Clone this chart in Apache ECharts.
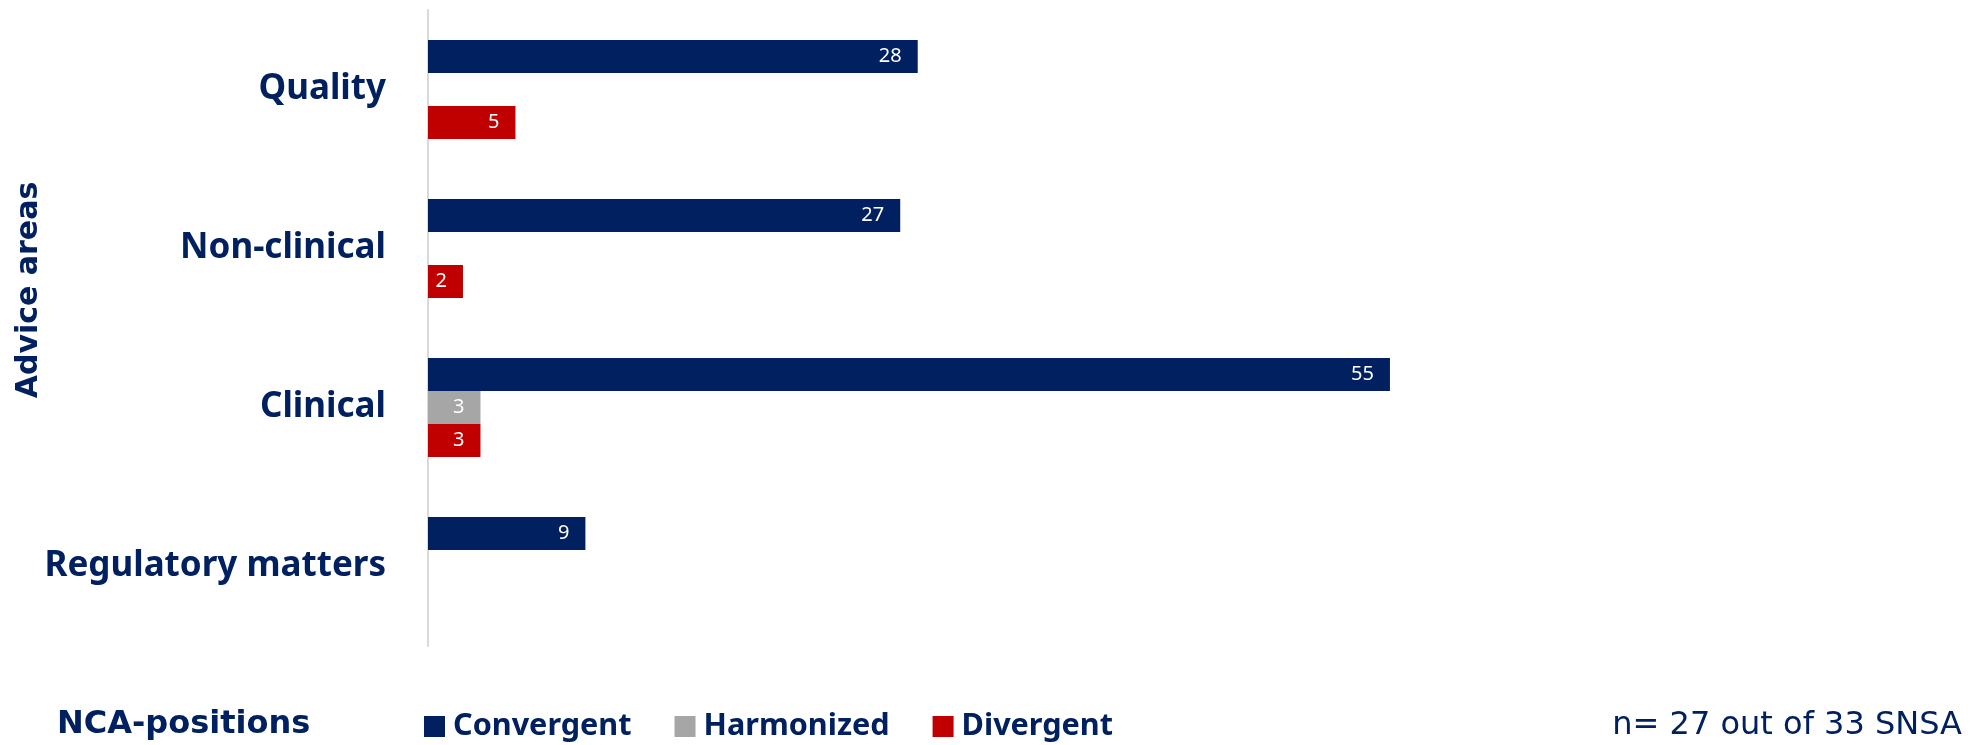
<!DOCTYPE html>
<html>
<head>
<meta charset="utf-8">
<title>Advice areas by NCA-positions</title>
<script src="https://cdn.jsdelivr.net/npm/echarts@6/dist/echarts.min.js"></script>
<style>
  html, body { margin: 0; padding: 0; background: #ffffff; }
  #chart { width: 1973px; height: 745px; }
</style>
</head>
<body>
<div id="chart"></div>
<script>
// Advice areas (top to bottom)
const categories = ['Quality', 'Non-clinical', 'Clinical', 'Regulatory matters'];

// Number of NCA positions per advice area
const convergent = [28, 27, 55, 9];
const harmonized = [null, null, 3, null];
const divergent  = [5, 2, 3, null];

const seriesNames = ['Convergent', 'Harmonized', 'Divergent'];
const footnote = 'n= 27 out of 33 SNSA';

const NAVY = '#002060';
const GREY = '#A6A6A6';
const RED = '#C00000';

const chart = echarts.init(document.getElementById('chart'), null, { renderer: 'canvas' });

function barSeries(name, data, color) {
  return {
    name: name,
    type: 'bar',
    data: data,
    barWidth: 33,
    barGap: '0%',
    itemStyle: { color: color },
    label: {
      show: true,
      position: 'insideRight',
      distance: 16,
      color: '#ffffff',
      fontFamily: 'Noto Sans',
      fontSize: 20,
      formatter: p => (p.value == null ? '' : String(p.value))
    }
  };
}

chart.setOption({
  animation: false,
  backgroundColor: '#ffffff',
  grid: { left: 428, top: 10, width: 1049.4, height: 636, containLabel: false },
  xAxis: {
    type: 'value',
    min: 0,
    max: 60,
    show: false
  },
  yAxis: {
    type: 'category',
    data: categories,
    inverse: true,
    axisLine: { show: true, lineStyle: { color: '#D9D9D9', width: 2 } },
    axisTick: { show: false },
    splitLine: { show: false },
    axisLabel: {
      margin: 42,
      color: NAVY,
      fontFamily: 'Noto Sans',
      fontWeight: 'bold',
      fontSize: 35
    }
  },
  legend: {
    data: seriesNames,
    left: 424,
    top: 711,
    padding: 0,
    icon: 'rect',
    itemWidth: 21,
    itemHeight: 21,
    itemGap: 43,
    selectedMode: false,
    textStyle: {
      color: NAVY,
      fontFamily: 'Noto Sans',
      fontWeight: 'bold',
      fontSize: 30.6,
      lineHeight: 31,
      padding: [0, 0, 0, 3]
    }
  },
  graphic: [
    {
      type: 'text',
      x: 29,
      y: 290,
      rotation: Math.PI / 2,
      style: {
        text: 'Advice areas',
        fill: NAVY,
        font: 'bold 30px "DejaVu Sans"',
        textAlign: 'center',
        textVerticalAlign: 'middle'
      }
    },
    {
      type: 'text',
      x: 57,
      y: 725,
      style: {
        text: 'NCA-positions',
        fill: NAVY,
        font: 'bold 32px "DejaVu Sans"',
        textAlign: 'left',
        textVerticalAlign: 'middle'
      }
    },
    {
      type: 'text',
      x: 1962,
      y: 726,
      style: {
        text: footnote,
        fill: NAVY,
        font: '32px "DejaVu Sans"',
        textAlign: 'right',
        textVerticalAlign: 'middle'
      }
    }
  ],
  series: [
    barSeries(seriesNames[0], convergent, NAVY),
    barSeries(seriesNames[1], harmonized, GREY),
    barSeries(seriesNames[2], divergent, RED)
  ]
});
</script>
</body>
</html>
